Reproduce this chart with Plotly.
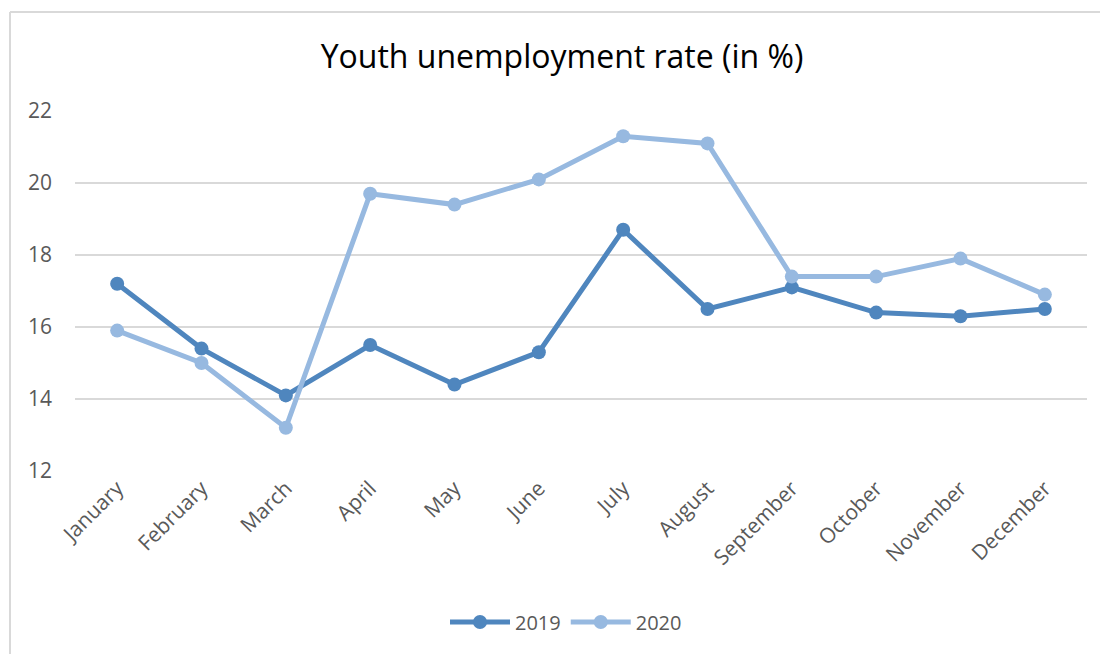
import plotly.graph_objects as go

months = ["January", "February", "March", "April", "May", "June", "July",
          "August", "September", "October", "November", "December"]
rate_2019 = [17.2, 15.4, 14.1, 15.5, 14.4, 15.3, 18.7, 16.5, 17.1, 16.4, 16.3, 16.5]
rate_2020 = [15.9, 15.0, 13.2, 19.7, 19.4, 20.1, 21.3, 21.1, 17.4, 17.4, 17.9, 16.9]
y_ticks = [12, 14, 16, 18, 20, 22]

OFF = 8  # default page body margin
W, H = 1108 - OFF, 654 - OFF
L = 75 - OFF
T = 111 - OFF
R = W - (1087 - OFF)
B = H - (471 - OFF)
pw = W - L - R
ph = H - T - B


def px_x(v):
    return (v - OFF - L) / pw


def px_y(v):
    return 1 - (v - OFF - T) / ph


fig = go.Figure()
fig.add_trace(go.Scatter(x=months, y=rate_2019, name="2019", mode="lines+markers",
                         line=dict(color="#4F86BE", width=5),
                         marker=dict(size=14, color="#4F86BE"), cliponaxis=False))
fig.add_trace(go.Scatter(x=months, y=rate_2020, name="2020", mode="lines+markers",
                         line=dict(color="#97B9E0", width=5),
                         marker=dict(size=14, color="#97B9E0"), cliponaxis=False))

fig.update_layout(
    width=W, height=H,
    margin=dict(l=L, r=R, t=T, b=B, autoexpand=False),
    paper_bgcolor="white", plot_bgcolor="white",
    font=dict(family="Open Sans", color="#595959"),
    title=dict(text="Youth unemployment rate (in %)", x=(562 - OFF) / W, xanchor="center",
               y=1 - (57 - OFF) / H, yanchor="middle",
               font=dict(family="Open Sans", size=32, color="black")),
    xaxis=dict(type="category", range=[-0.5, len(months) - 0.5],
               showgrid=False, zeroline=False, showline=False,
               automargin=False, tickangle=-45,
               tickfont=dict(size=21, color="#595959"), ticks=""),
    yaxis=dict(range=[12, 22], tickvals=y_ticks, showgrid=True, gridcolor="#D9D9D9",
               gridwidth=2, zeroline=False, showline=False, ticks="", automargin=False,
               tickfont=dict(size=21, color="#595959"), ticklabelstandoff=22),
    legend=dict(orientation="h", x=px_x(566), xanchor="center", y=px_y(622), yanchor="middle",
                font=dict(size=20, color="#595959"), itemwidth=60),
    showlegend=True,
    shapes=[
        dict(type="line", xref="paper", yref="paper", x0=px_x(10), x1=px_x(1120),
             y0=px_y(12), y1=px_y(12), line=dict(color="#D9D9D9", width=2)),
        dict(type="line", xref="paper", yref="paper", x0=px_x(10), x1=px_x(10),
             y0=px_y(12), y1=px_y(670), line=dict(color="#D9D9D9", width=2)),
    ],
)

fig.write_html("out.html")
